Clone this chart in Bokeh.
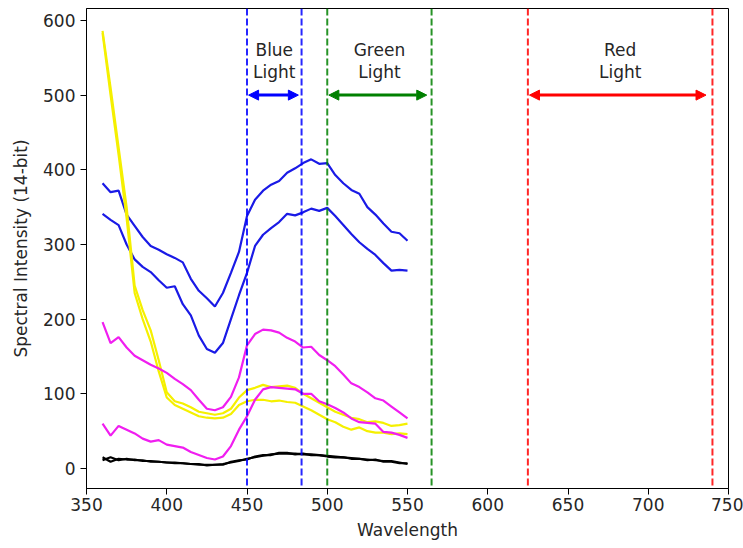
from bokeh.plotting import figure
from bokeh.models import Span, Arrow, NormalHead, FixedTicker, Range1d
from bokeh.core.properties import value
from bokeh.embed import file_html
from bokeh.resources import INLINE

wavelength = list(range(360, 551, 5))

blue_1 = [382, 370, 372, 340, 325, 310, 298, 293, 287, 282, 276, 254, 238, 228, 217, 235, 262, 290, 338, 360,
          372, 380, 385, 396, 402, 409, 414, 408, 409, 393, 382, 373, 368, 350, 340, 328, 317, 315, 305]
blue_2 = [341, 333, 326, 300, 280, 270, 263, 252, 242, 244, 220, 205, 178, 160, 155, 168, 200, 232, 262, 298,
          313, 322, 330, 341, 339, 343, 348, 345, 349, 338, 326, 314, 303, 294, 286, 275, 265, 266, 265]
yellow_1 = [586, 510, 430, 350, 245, 212, 185, 145, 102, 90, 87, 82, 76, 74, 72, 74, 80, 95, 105, 108,
            112, 109, 110, 111, 108, 100, 94, 88, 82, 76, 72, 68, 66, 62, 63, 61, 57, 58, 60]
yellow_2 = [583, 500, 420, 335, 235, 200, 170, 130, 95, 85, 80, 75, 70, 68, 67, 68, 73, 85, 90, 92,
            92, 90, 91, 89, 88, 83, 78, 72, 66, 62, 56, 52, 55, 50, 48, 48, 46, 47, 46]
magenta_1 = [196, 168, 176, 162, 151, 145, 139, 134, 128, 120, 113, 105, 92, 80, 78, 82, 96, 122, 165, 180,
             186, 185, 182, 175, 170, 162, 163, 152, 145, 137, 126, 114, 109, 102, 94, 91, 83, 75, 67]
magenta_2 = [60, 44, 57, 52, 47, 40, 36, 38, 32, 30, 28, 22, 18, 14, 12, 16, 30, 52, 70, 92,
             106, 109, 108, 107, 106, 100, 100, 90, 86, 81, 75, 67, 62, 61, 60, 49, 48, 45, 41]
black_1 = [15, 9, 13, 12, 12, 10, 10, 9, 8, 8, 7, 6, 5, 5, 5, 6, 8, 10, 13, 15,
           17, 19, 20, 20, 20, 19, 19, 18, 17, 16, 15, 14, 13, 12, 11, 10, 10, 8, 6]
black_2 = [11, 15, 11, 13, 11, 11, 9, 9, 8, 7, 7, 6, 6, 4, 5, 5, 9, 11, 12, 16,
           18, 18, 21, 21, 19, 20, 18, 18, 16, 15, 15, 13, 13, 11, 12, 9, 9, 7, 7]

series = [blue_1, blue_2, yellow_1, yellow_2, magenta_1, magenta_2, black_1, black_2]
series_colors = ["#1a1ae6", "#1a1ae6", "#f5f000", "#f5f000", "#f01ef0", "#f01ef0", "black", "black"]

band_names = ["Blue\nLight", "Green\nLight", "Red\nLight"]
band_colors = ["blue", "green", "red"]
band_lo = [450, 500, 625]
band_hi = [484, 565, 740]
arrow_start = [451, 501, 626]
arrow_end = [482, 562, 736]
arrow_y = 500
label_y = 546

x_ticks = [350, 400, 450, 500, 550, 600, 650, 700, 750]
y_ticks = [0, 100, 200, 300, 400, 500, 600]

FONT = "DejaVu Sans"

p = figure(width=743, height=548, output_backend="svg", toolbar_location=None,
           x_range=Range1d(350, 750), y_range=Range1d(-26.8, 616),
           min_border_left=86, min_border_right=15, min_border_top=8, min_border_bottom=60)
p.grid.visible = False
p.outline_line_color = "black"
p.outline_line_width = 1
p.background_fill_color = "white"
p.border_fill_color = "white"

for ys, c in zip(series, series_colors):
    p.line(wavelength, ys, line_color=c, line_width=2.2)

for lo, hi, c in zip(band_lo, band_hi, band_colors):
    for loc in (lo, hi):
        p.add_layout(Span(location=loc, dimension="height", line_color=c, line_width=2,
                          line_dash="7 3", line_alpha=0.85))

for s, e, c in zip(arrow_start, arrow_end, band_colors):
    p.add_layout(Arrow(x_start=s, y_start=arrow_y, x_end=e, y_end=arrow_y,
                       line_color=c, line_width=3,
                       start=NormalHead(size=10, fill_color=c, line_color=c, line_width=1),
                       end=NormalHead(size=10, fill_color=c, line_color=c, line_width=1)))

centers = [(lo + hi) / 2 for lo, hi in zip(band_lo, band_hi)]
p.text(x=centers, y=[label_y] * 3, text=band_names, text_align="center", text_baseline="middle",
       text_font=value(FONT), text_font_size="17px", text_color="#262626", text_line_height=1.1)

for ax in (p.xaxis[0], p.yaxis[0]):
    ax.major_tick_in = 0
    ax.major_tick_out = 6
    ax.minor_tick_line_color = None
    ax.axis_line_color = "black"
    ax.major_tick_line_color = "black"
    ax.major_label_text_font = FONT
    ax.major_label_text_font_size = "17px"
    ax.major_label_text_color = "#262626"
    ax.axis_label_text_font = FONT
    ax.axis_label_text_font_size = "17px"
    ax.axis_label_text_font_style = "normal"
    ax.axis_label_text_color = "#262626"

p.xaxis.ticker = FixedTicker(ticks=x_ticks)
p.yaxis.ticker = FixedTicker(ticks=y_ticks)
p.xaxis.axis_label = "Wavelength"
p.yaxis.axis_label = "Spectral Intensity (14-bit)"
p.xaxis.major_label_standoff = 3
p.yaxis.major_label_standoff = 5
p.xaxis.axis_label_standoff = 6
p.yaxis.axis_label_standoff = 9

open("out.html", "w").write(file_html(p, INLINE))
